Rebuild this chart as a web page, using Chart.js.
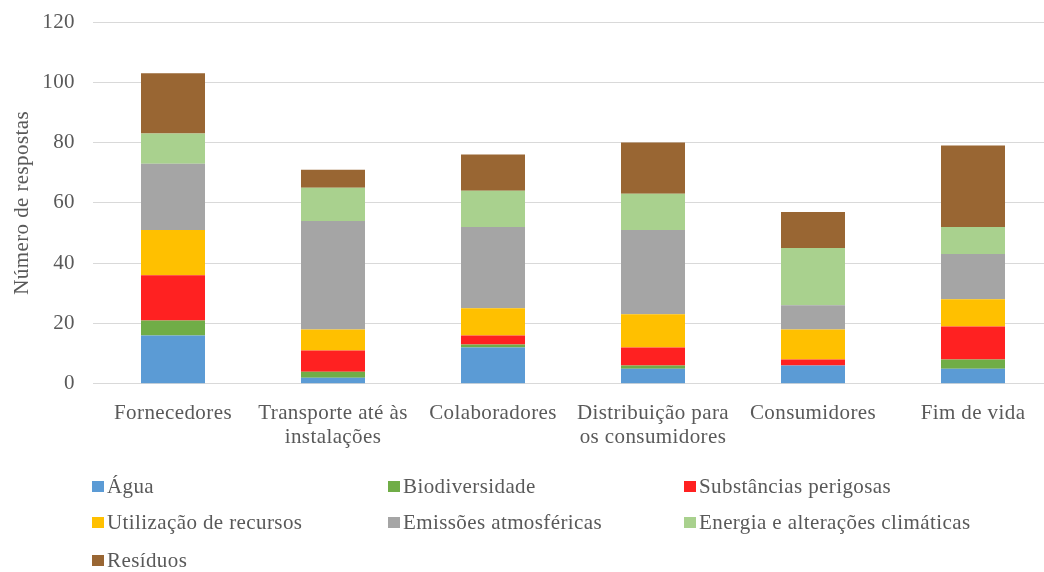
<!DOCTYPE html>
<html>
<head>
<meta charset="utf-8">
<script src="https://cdn.jsdelivr.net/npm/chart.js@4/dist/chart.umd.min.js"></script>
<style>
  body { margin: 0; background: #fff; overflow: hidden; }
  #wrap { position: relative; width: 1044px; height: 572px; overflow: hidden; }
  #chart { position: absolute; left: 0; top: 0; }
  #legend { position: absolute; left: 0; top: 0; width: 1044px; height: 572px; pointer-events: none;
            font-family: "Liberation Serif", "Times New Roman", serif; font-size: 21px; color: #595959;
            letter-spacing: 0.4px; }
  .item { position: absolute; white-space: nowrap; line-height: 22px; }
  .box { position: absolute; left: 0; top: 6px; width: 12px; height: 11px; }
  .txt { position: absolute; left: 15px; top: 0; }
</style>
</head>
<body>
<div id="wrap">
  <canvas id="chart" width="1053" height="466"></canvas>
  <div id="legend"></div>
</div>
<script>
var categories = [["Fornecedores"], ["Transporte até às", "instalações"], ["Colaboradores"],
                  ["Distribuição para", "os consumidores"], ["Consumidores"], ["Fim de vida"]];

var agua        = [16, 2, 12, 5, 6, 5];
var biodiv      = [5, 2, 1, 1, 0, 3];
var substancias = [15, 7, 3, 6, 2, 11];
var utilizacao  = [15, 7, 9, 11, 10, 9];
var emissoes    = [22, 36, 27, 28, 8, 15];
var energia     = [10, 11, 12, 12, 19, 9];
var residuos    = [20, 6, 12, 17, 12, 27];

var seriesNames = ["Água", "Biodiversidade", "Substâncias perigosas", "Utilização de recursos",
                   "Emissões atmosféricas", "Energia e alterações climáticas", "Resíduos"];
var seriesColors = ["#5B9BD5", "#70AD47", "#FF2121", "#FFC000", "#A5A5A5", "#A9D18E", "#996633"];
var seriesData = [agua, biodiv, substancias, utilizacao, emissoes, energia, residuos];

var yTicks = [0, 20, 40, 60, 80, 100, 120];

var font = "'Liberation Serif', 'Times New Roman', serif";
var textColor = "#595959";

var datasets = seriesNames.map(function(name, i) {
    return {
        label: name,
        data: seriesData[i],
        backgroundColor: seriesColors[i],
        borderWidth: 0,
        barPercentage: 0.4,
        categoryPercentage: 1
    };
});

// Excel text is a bit wider than canvas default, add a little spacing
var spacingPlugin = {
    id: "spacing",
    beforeDraw: function(chart) { chart.ctx.letterSpacing = "0.4px"; }
};

var ctx = document.getElementById("chart").getContext("2d");
var chart = new Chart(ctx, {
    type: "bar",
    data: { labels: categories, datasets: datasets },
    plugins: [spacingPlugin],
    options: {
        responsive: false,
        animation: false,
        layout: { padding: { top: 22, right: 0, bottom: 6, left: 0 } },
        plugins: { legend: { display: false }, tooltip: { enabled: false } },
        scales: {
            x: {
                stacked: true,
                grid: { display: false },
                border: { display: false },
                ticks: { color: textColor, font: { family: font, size: 21, lineHeight: 1.15 }, padding: 10, maxRotation: 0 }
            },
            y: {
                stacked: true,
                min: 0,
                max: 120,
                afterBuildTicks: function(axis) {
                    axis.ticks = yTicks.map(function(v) { return { value: v }; });
                },
                afterFit: function(axis) {
                    axis.width = 93;
                    axis.paddingTop = 0;
                    axis.paddingBottom = 0;
                },
                grid: { color: "#D9D9D9", lineWidth: 1, drawTicks: false },
                border: { display: false },
                ticks: { color: textColor, font: { family: font, size: 21 }, padding: 18 },
                title: {
                    display: true,
                    text: "Número de respostas",
                    color: textColor,
                    font: { family: font, size: 21 },
                    padding: { top: 10, bottom: 0 }
                }
            }
        }
    }
});

// legend in three columns, like the original
var legend = document.getElementById("legend");
var colX = [92, 388, 684];
var rowY = [475, 511, 549];
seriesNames.forEach(function(name, i) {
    var el = document.createElement("div");
    el.className = "item";
    el.style.left = colX[i % 3] + "px";
    el.style.top = rowY[Math.floor(i / 3)] + "px";
    el.innerHTML = '<span class="box" style="background:' + seriesColors[i] + '"></span><span class="txt">' + name + '</span>';
    legend.appendChild(el);
});
</script>
</body>
</html>
